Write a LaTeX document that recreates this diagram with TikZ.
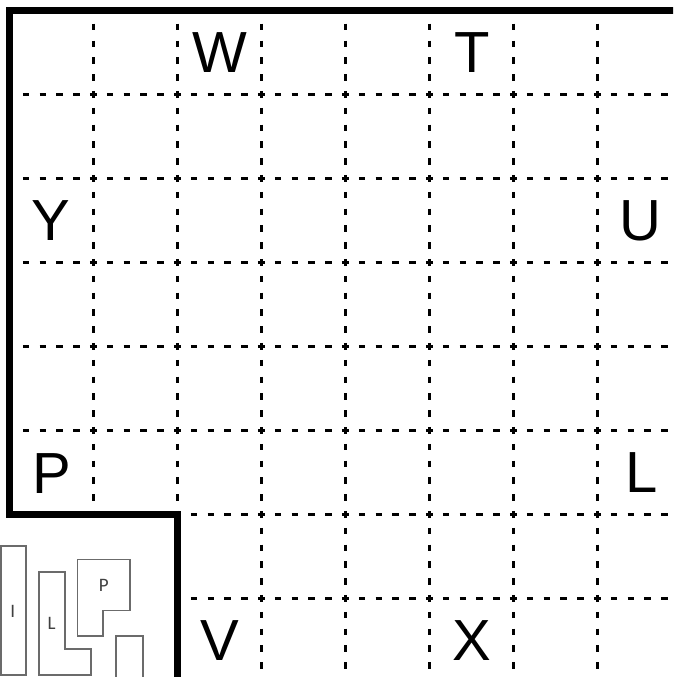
\documentclass[tikz,border=0pt]{standalone}
\usepackage{fontspec}
\setmainfont{Liberation Sans}
\newfontfamily\piecefont{Carlito}
\begin{document}
\begin{tikzpicture}[x=1pt,y=-1pt,
  gridline/.style={line width=2.4pt, dash pattern=on 6.7pt off 10.1pt, dash phase=3.35pt},
  border/.style={line width=6.5pt, line join=miter},
  letter/.style={inner sep=0pt, font=\fontsize{58}{58}\selectfont},
  piece/.style={draw=black!58, line width=1.6pt},
  piecelabel/.style={inner sep=0pt, text=black!75, font=\piecefont\fontsize{19}{19}\selectfont}]
\useasboundingbox (0,0) rectangle (673,677);
\clip (0,0) rectangle (673,677);
% dashed grid: horizontal lines
\foreach \yy in {94.3,178.3,262.3,346.3,430.3}
  \draw[gridline] (9.3,\yy) -- (681.3,\yy);
\foreach \yy in {514.3,598.3}
  \draw[gridline] (177.3,\yy) -- (681.3,\yy);
% vertical lines
\foreach \xx in {93.3,177.3}
  \draw[gridline] (\xx,10.3) -- (\xx,514.3);
\foreach \xx in {261.3,345.3,429.3,513.3,597.3}
  \draw[gridline] (\xx,10.3) -- (\xx,682.3);
% thick border
\draw[border] (177.3,690) -- (177.3,514.3) -- (9.3,514.3) -- (9.3,10.3) -- (690,10.3);
% letters
\node[letter] (w) at (220.3,52.5) {W};
\node[letter] (t) at (472.3,52.5) {T};
\node[letter] (y) at (51.3,220.5) {Y};
\node[letter] (u) at (640.3,220.5) {U};
\node[letter] (p) at (52.3,474) {P};
\node[letter] (l) at (641.3,473) {L};
\node[letter] (v) at (220.3,641) {V};
\node[letter] (x) at (472.3,641) {X};
% pentomino pieces
\draw[piece] (0.8,546) rectangle (26,675);
\draw[piece] (39,572) -- (65,572) -- (65,649) -- (90.7,649) -- (90.7,675) -- (39,675) -- cycle;
\draw[piece] (77.3,559.3) -- (130,559.3) -- (130,610.5) -- (103,610.5) -- (103,636) -- (77.3,636) -- cycle;
\draw[piece] (116,690) -- (116,636) -- (142.7,636) -- (142.7,690);
\node[piecelabel] (pi) at (12.8,611.2) {I};
\node[piecelabel] (pl) at (51.7,623.7) {L};
\node[piecelabel] (pp) at (103.8,585.8) {P};
\end{tikzpicture}
\end{document}
